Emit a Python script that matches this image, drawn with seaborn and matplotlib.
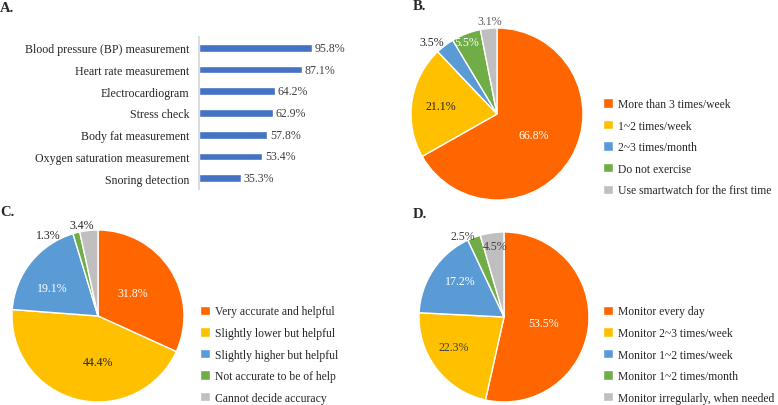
import matplotlib
matplotlib.use("Agg")
import numpy as np
import matplotlib.pyplot as plt
import seaborn as sns

# data
features = ["Blood pressure (BP) measurement", "Heart rate measurement",
            "Electrocardiogram", "Stress check", "Body fat measurement",
            "Oxygen saturation measurement", "Snoring detection"]
feature_pct = [95.8, 87.1, 64.2, 62.9, 57.8, 53.4, 35.3]

exercise_labels = ["More than 3 times/week", "1~2 times/week", "2~3 times/month",
                   "Do not exercise", "Use smartwatch for the first time"]
exercise_pct = [66.8, 21.1, 3.5, 5.5, 3.1]

accuracy_labels = ["Very accurate and helpful", "Slightly lower but helpful",
                   "Slightly higher but helpful", "Not accurate to be of help",
                   "Cannot decide accuracy"]
accuracy_pct = [31.8, 44.4, 19.1, 1.3, 3.4]

monitor_labels = ["Monitor every day", "Monitor 2~3 times/week", "Monitor 1~2 times/week",
                  "Monitor 1~2 times/month", "Monitor irregularly, when needed"]
monitor_pct = [53.5, 22.3, 17.2, 2.5, 4.5]

pie_colors = ["#FF6600", "#FFC000", "#5B9BD5", "#70AD47", "#BFBFBF"]

sns.set_style("white")
plt.rcParams["font.family"] = ["Liberation Serif", "DejaVu Serif"]
FS = 8.6
LFS = 8.4

W, H = 778, 406
fig = plt.figure(figsize=(W / 100, H / 100), dpi=100)


def box(x0, y0, w, h):
    return [x0 / W, 1 - (y0 + h) / H, w / W, h / H]


# panel A - bar chart
ax = fig.add_axes(box(199, 38, 118, 152))
sns.barplot(x=feature_pct, y=features, orient="h", color="#4472C4",
            width=0.35, saturation=1, ax=ax)
ax.set_xlim(0, 100)
ax.set_ylim(6.5, -0.5)
ax.bar_label(ax.containers[0], fmt="%.1f%%", padding=2, fontsize=FS, color="#404040")
ax.set_xticks([])
ax.set_xlabel("")
ax.set_ylabel("")
ax.tick_params(axis="y", length=0, pad=7, labelsize=FS, labelcolor="#262626")
for s in ["top", "right", "bottom"]:
    ax.spines[s].set_visible(False)
ax.spines["left"].set_color("#D9D9D9")
ax.spines["left"].set_linewidth(1.3)


def draw_pie(cx, cy, r, values, labels, pos, txtcolors, leg_xy):
    ax = fig.add_axes(box(cx - r, cy - r, 2 * r, 2 * r))
    wedges, _ = ax.pie(values, colors=pie_colors, startangle=90, counterclock=False,
                       wedgeprops=dict(edgecolor="white", linewidth=1))
    ax.set_xlim(-1, 1)
    ax.set_ylim(-1, 1)
    for w, v, (d, da), c in zip(wedges, values, pos, txtcolors):
        ang = np.deg2rad((w.theta1 + w.theta2) / 2 + da)
        ax.text(d * np.cos(ang), d * np.sin(ang), f"{v}%", ha="center", va="center",
                color=c, fontsize=FS)
    fig.legend(wedges, labels, loc="upper left",
               bbox_to_anchor=(leg_xy[0] / W, 1 - leg_xy[1] / H),
               frameon=False, fontsize=LFS, handlelength=0.87, handleheight=0.87,
               handletextpad=0.45, labelspacing=0.82, borderpad=0, borderaxespad=0)


draw_pie(497, 115, 86, exercise_pct, exercise_labels,
         [(0.49, 0), (0.66, 0), (1.13, 5), (0.91, 2), (1.08, -1)],
         ["white", "#262626", "#262626", "white", "#595959"], (603, 99))
draw_pie(98, 317, 86, accuracy_pct, accuracy_labels,
         [(0.49, 1), (0.53, 14), (0.63, 7), (1.1, 17), (1.08, 4)],
         ["white", "#262626", "white", "#262626", "#262626"], (200, 306.5))
draw_pie(504, 318, 85, monitor_pct, monitor_labels,
         [(0.47, -3), (0.69, -7), (0.67, -6), (1.07, 6), (0.84, -1)],
         ["white", "#404040", "white", "#404040", "#404040"], (603, 306.5))

# panel letters
fig.text(0 / W, 1 - 8 / H, "A.", fontsize=10.5, fontweight="bold", va="center")
fig.text(413 / W, 1 - 6 / H, "B.", fontsize=10.5, fontweight="bold", va="center")
fig.text(0 / W, 1 - 213 / H, "C.", fontsize=10.5, fontweight="bold", va="center")
fig.text(413 / W, 1 - 215 / H, "D.", fontsize=10.5, fontweight="bold", va="center")

fig.savefig("out.png", dpi=100)
